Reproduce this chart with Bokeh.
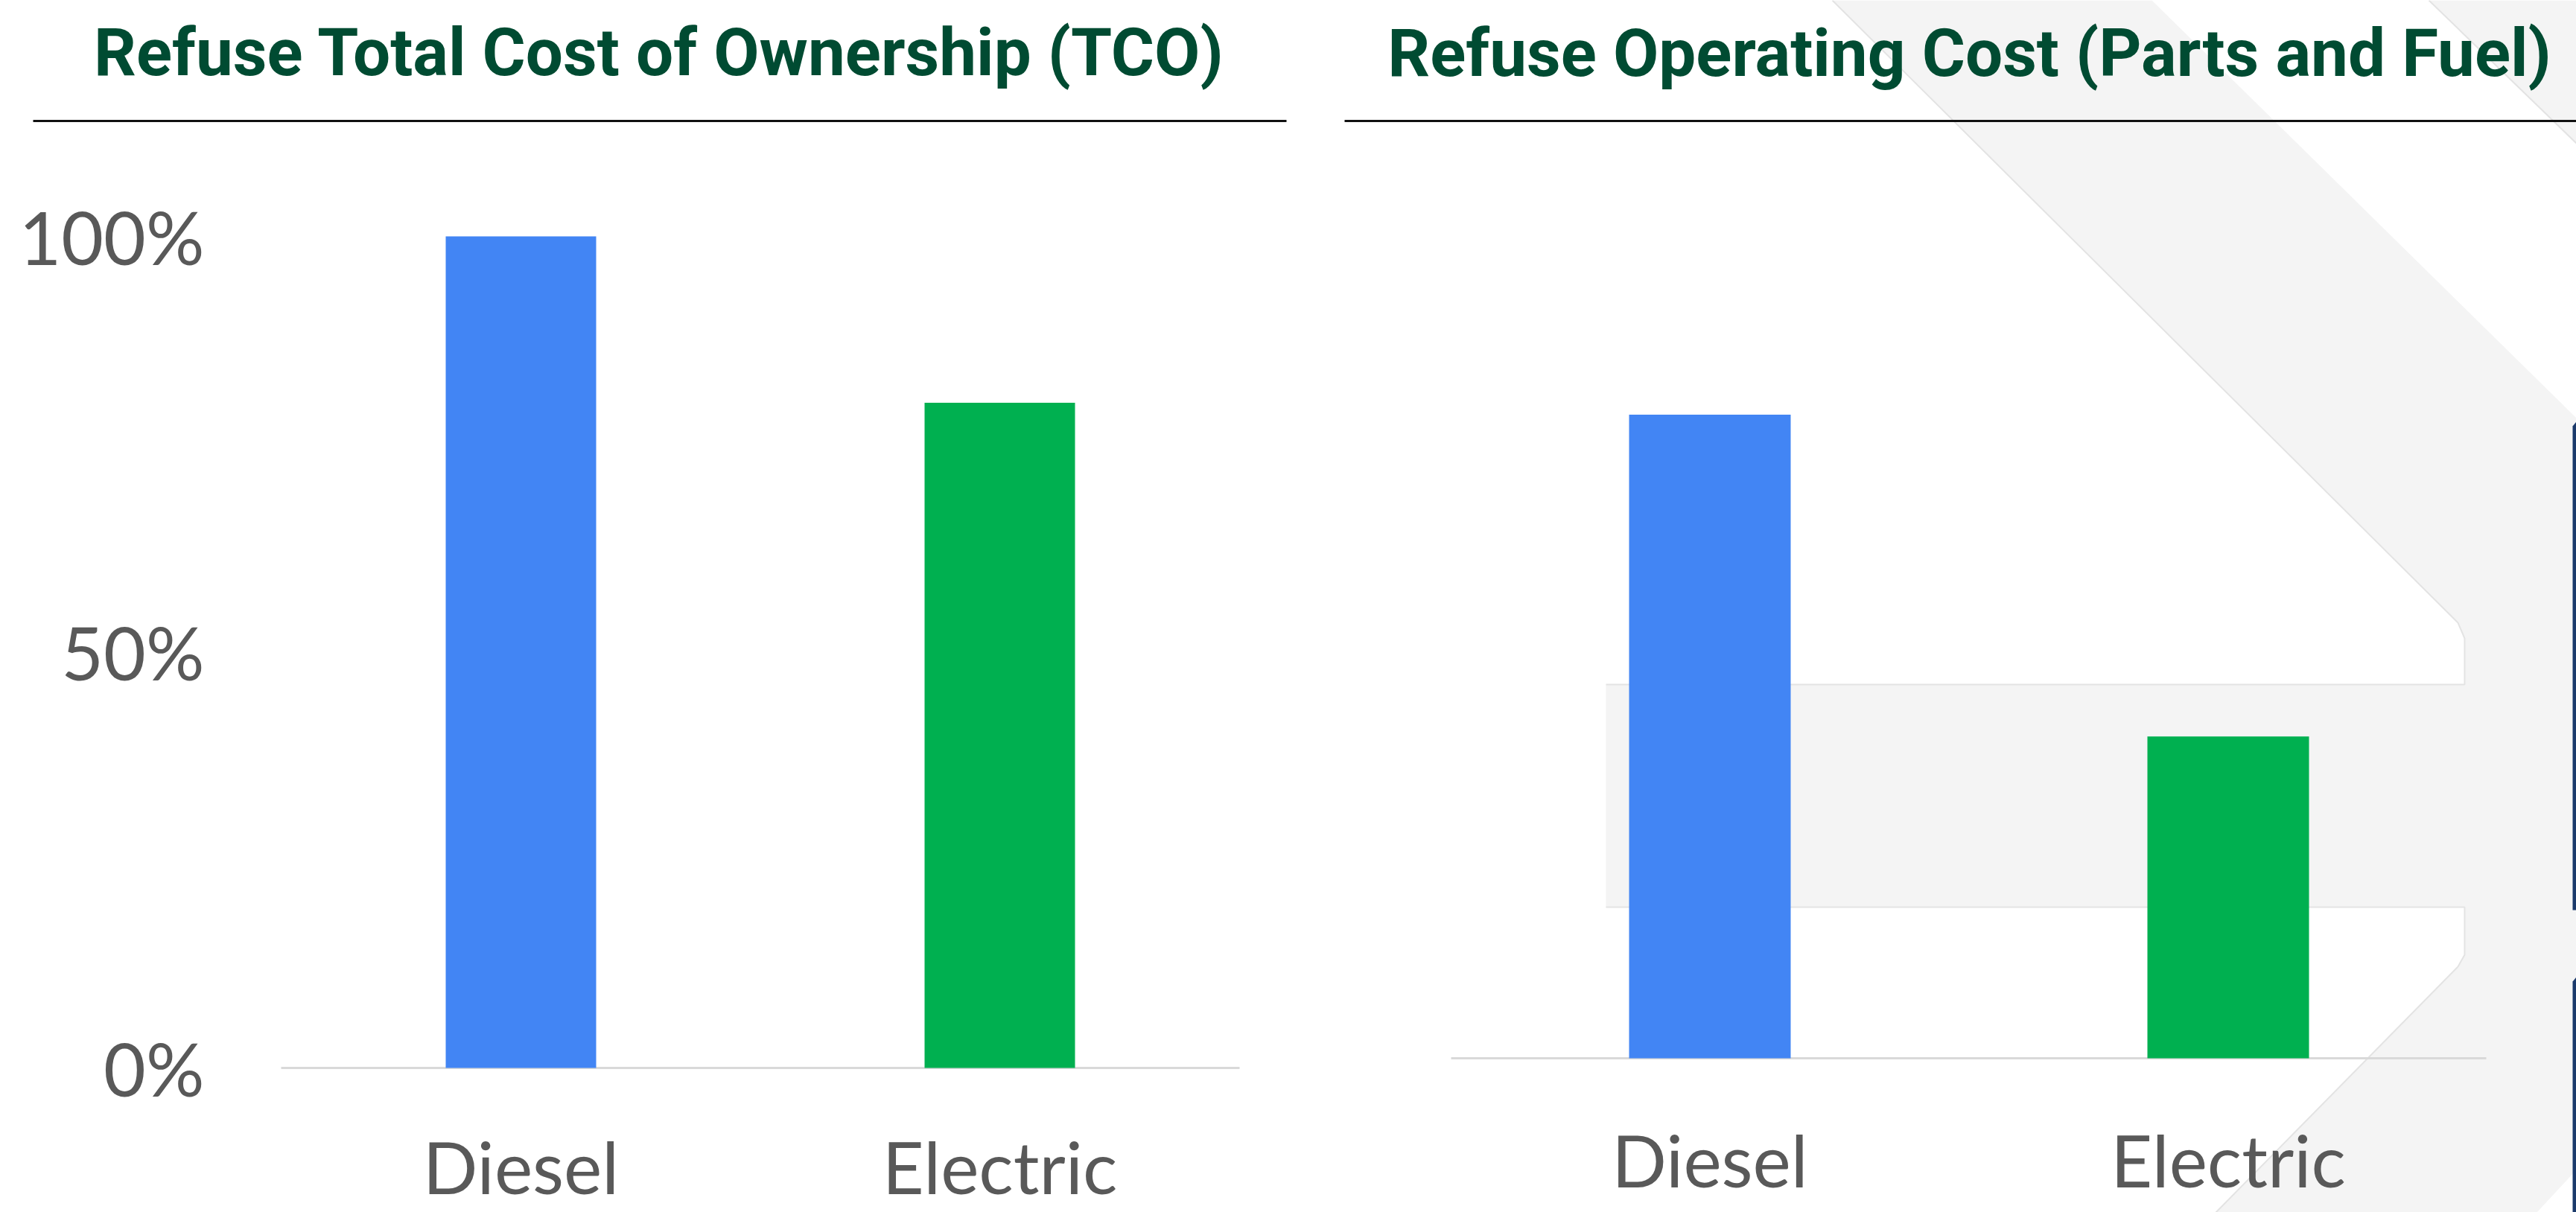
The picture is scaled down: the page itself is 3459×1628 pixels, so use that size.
from bokeh.plotting import figure
from bokeh.models import Range1d, ColumnDataSource
from bokeh.layouts import row
from bokeh.embed import file_html
from bokeh.resources import INLINE
from bokeh.core.properties import value

# ---------------- data ----------------
categories = ["Diesel", "Electric"]
tco_values = [100, 80]            # % of diesel TCO
operating_values = [100, 50]      # relative operating cost (parts and fuel)
bar_colors = ["#4285F4", "#00B050"]
tco_ticks = [0, 50, 100]
tco_tick_labels = ["0%", "50%", "100%"]
title_tco = "Refuse Total Cost of Ownership (TCO)"
title_ops = "Refuse Operating Cost (Parts and Fuel)"

# ---------------- styles / layout ----------------
TITLE_COLOR = "#004B32"
TEXT_GRAY = "#595959"
AXIS_GRAY = "#D9D9D9"
WM_FILL = "#F4F4F4"
WM_LINE = "#E3E3E3"
NAVY = "#1B3A6B"
PAGE_TOP, PAGE_BOTTOM = 0, 1628
H = PAGE_BOTTOM - PAGE_TOP


def make_panel(x0, x1, first_center, spacing, zero_px, full_px):
    ppu = (zero_px - full_px) / 100.0
    xr = Range1d((x0 - first_center) / spacing, (x1 - first_center) / spacing)
    yr = Range1d(-(PAGE_BOTTOM - zero_px) / ppu, (zero_px - PAGE_TOP) / ppu)
    p = figure(width=x1 - x0, height=H, x_range=xr, y_range=yr,
               x_axis_type=None, y_axis_type=None, toolbar_location=None,
               output_backend="svg", min_border=0, outline_line_color=None,
               background_fill_color="white", border_fill_color="white")
    p.extra_x_ranges = {"px": Range1d(x0, x1)}
    p.extra_y_ranges = {"px": Range1d(PAGE_BOTTOM, PAGE_TOP)}
    p.grid.visible = False
    return p, ppu


def add_content(p, values, title, title_cx, title_cy, rule_x, base_x, label_cy, bar_w):
    idx = list(range(len(categories)))
    src = ColumnDataSource(dict(x=idx, top=values, color=bar_colors, cat=categories))
    # baseline at value 0
    p.segment(x0=[base_x[0]], y0=[0], x1=[base_x[1]], y1=[0], x_range_name="px",
              line_color=AXIS_GRAY, line_width=3)
    p.vbar(x="x", top="top", bottom=0, width=bar_w, fill_color="color",
           line_color=None, source=src)
    # title + rule
    p.text(x=[title_cx], y=[title_cy], text=[title], x_range_name="px", y_range_name="px",
           text_font=value("Roboto"), text_font_style="bold", text_font_size="89px",
           text_color=TITLE_COLOR, text_align="center", text_baseline="middle")
    p.segment(x0=[rule_x[0]], y0=[162], x1=[rule_x[1]], y1=[162],
              x_range_name="px", y_range_name="px", line_color="#111111", line_width=3)
    # category labels
    p.text(x="x", y=label_cy, text="cat", source=src, y_range_name="px",
           text_font=value("Lato"), text_font_size="97px", text_color=TEXT_GRAY,
           text_align="center", text_baseline="middle")


# ---------------- left panel: TCO ----------------
L = dict(x0=0, x1=1790, first_center=699.0, spacing=643.0, bar_px=202.0,
         zero_px=1434.0, full_px=317.0)
p1, ppu1 = make_panel(L["x0"], L["x1"], L["first_center"], L["spacing"],
                      L["zero_px"], L["full_px"])
add_content(p1, tco_values, title_tco, 885, 70, (44, 1727), (377, 1664), 1566,
            L["bar_px"] / L["spacing"])
p1.text(x=[274] * len(tco_ticks), y=tco_ticks, text=tco_tick_labels, x_range_name="px",
        text_font=value("Lato"), text_font_size="98px", text_color=TEXT_GRAY,
        text_align="right", text_baseline="middle")

# ---------------- right panel: operating cost ----------------
R = dict(x0=1790, x1=3459, first_center=2295.5, spacing=696.0, bar_px=217.0,
         zero_px=1421.0, full_px=556.6)
p2, ppu2 = make_panel(R["x0"], R["x1"], R["first_center"], R["spacing"],
                      R["zero_px"], R["full_px"])

# decorative watermark (page pixel coordinates)
wm_xs = [
    [2460, 2889, 3459, 3459, 3406, 2975, 3300, 3309, 3309, 2156, 2156, 3309, 3309, 3300],
    [3261, 3459, 3459],
]
wm_ys = [
    [0, 0, 561, 1571, 1628, 1628, 1298, 1282, 1218, 1218, 919, 919, 857, 836],
    [0, 0, 192],
]
p2.patches(xs=wm_xs, ys=wm_ys, x_range_name="px", y_range_name="px",
           fill_color=WM_FILL, line_color=None)
p2.multi_line(xs=[[2460, 3300, 3309, 3309, 2156],
                  [2156, 3309, 3309, 3300, 2975],
                  [3261, 3459]],
              ys=[[0, 836, 857, 919, 919],
                  [1218, 1218, 1282, 1298, 1628],
                  [0, 192]],
              x_range_name="px", y_range_name="px", line_color=WM_LINE, line_width=2)
# dark edge of neighbouring element at far right
p2.patches(xs=[[3454, 3459, 3459, 3454], [3454, 3459, 3459, 3454]],
           ys=[[572, 566, 1222, 1222], [1318, 1312, 1628, 1628]],
           x_range_name="px", y_range_name="px", fill_color=NAVY, line_color=None)

add_content(p2, operating_values, title_ops, 2644, 71, (1805, 3459), (1948, 3338), 1557,
            R["bar_px"] / R["spacing"])

layout = row(p1, p2, spacing=0)
open("out.html", "w").write(file_html(layout, INLINE))
